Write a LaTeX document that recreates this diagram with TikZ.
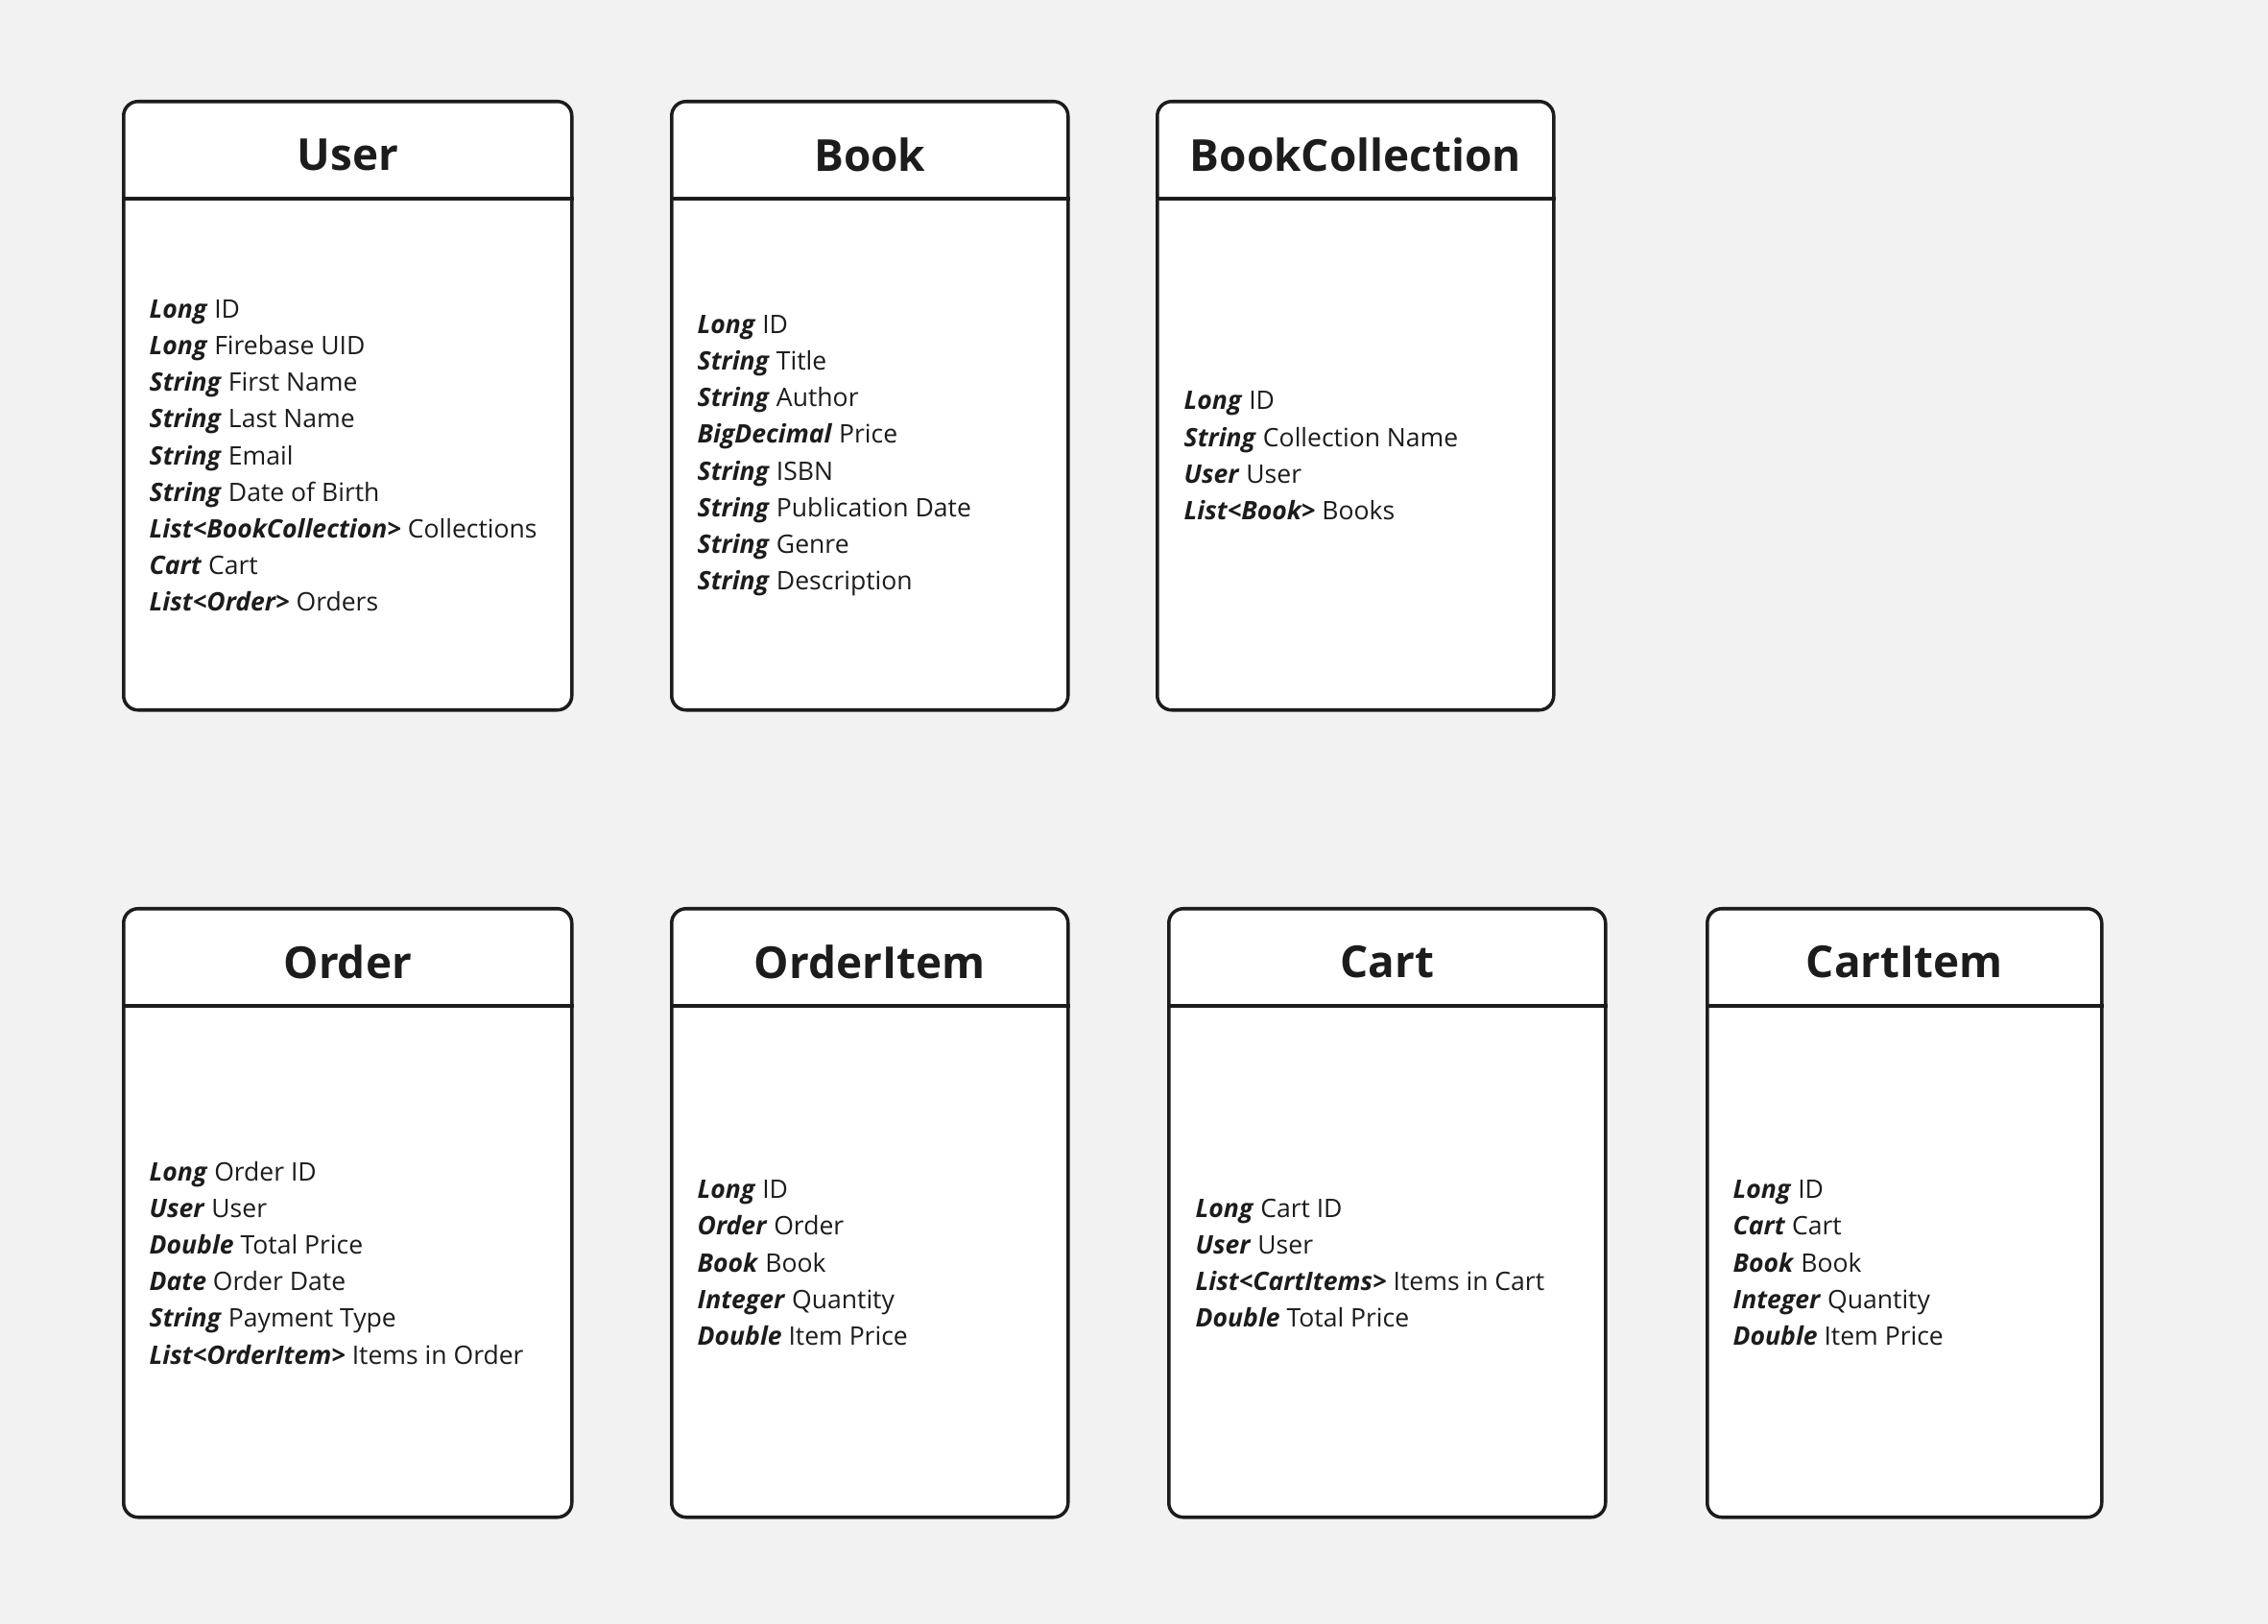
\documentclass[tikz,border=0pt]{standalone}
\usepackage{fontspec}
\setmainfont{Open Sans}
\usetikzlibrary{positioning}
\definecolor{canvas}{HTML}{F2F2F2}
\definecolor{ink}{HTML}{1C1C1C}
\newcommand{\ty}[1]{\textbf{\textit{#1}}}
\tikzset{
  classbox/.style={draw=ink, line width=1pt, rounded corners=0.15cm, fill=white, anchor=north west, inner sep=0pt},
  classname/.style={font=\bfseries\fontsize{13.05}{16}\selectfont, text=ink, inner sep=0pt},
  attrs/.style={font=\fontsize{7.55}{10.85}\selectfont, text=ink, align=left, anchor=west, inner sep=0pt},
  divider/.style={draw=ink, line width=1pt}
}
\begin{document}
\begin{tikzpicture}
	\fill[canvas] (0,0) rectangle (23.63,-16.92);
	\useasboundingbox (0,0) rectangle (23.63,-16.92);
	% top row
	\node[classbox, minimum width=4.67cm, minimum height=6.34cm] (user) at (1.27,-1.04) {};
	\node[classbox, minimum width=4.13cm, minimum height=6.34cm] (book) at (6.98,-1.04) {};
	\node[classbox, minimum width=4.13cm, minimum height=6.34cm] (bookcoll) at (12.04,-1.04) {};
	% bottom row
	\node[classbox, minimum width=4.67cm, minimum height=6.34cm] (order) at (1.27,-9.45) {};
	\node[classbox, minimum width=4.13cm, minimum height=6.34cm] (orderitem) at (6.98,-9.45) {};
	\node[classbox, minimum width=4.55cm, minimum height=6.34cm] (cart) at (12.16,-9.45) {};
	\node[classbox, minimum width=4.11cm, minimum height=6.34cm] (cartitem) at (17.77,-9.45) {};

	\foreach \c in {user,book,bookcoll,order,orderitem,cart,cartitem}
		\draw[divider] ([yshift=-1.03cm]\c.north west) -- ([yshift=-1.03cm]\c.north east);

	\node[classname] (usertitle) at ([yshift=-0.57cm]user.north) {User};
	\node[classname] (booktitle) at ([yshift=-0.57cm]book.north) {Book};
	\node[classname] (bookcolltitle) at ([yshift=-0.57cm]bookcoll.north) {BookCollection};
	\node[classname] (ordertitle) at ([yshift=-0.57cm]order.north) {Order};
	\node[classname] (orderitemtitle) at ([yshift=-0.57cm]orderitem.north) {OrderItem};
	\node[classname] (carttitle) at ([yshift=-0.57cm]cart.north) {Cart};
	\node[classname] (cartitemtitle) at ([yshift=-0.57cm]cartitem.north) {CartItem};

	\node[attrs] (userattrs) at ([xshift=0.28cm, yshift=-0.52cm]user.west) {\ty{Long} ID\\ \ty{Long} Firebase UID\\ \ty{String} First Name\\ \ty{String} Last Name\\ \ty{String} Email\\ \ty{String} Date of Birth\\ \ty{List<BookCollection>} Collections\\ \ty{Cart} Cart\\ \ty{List<Order>} Orders};
	\node[attrs] (bookattrs) at ([xshift=0.28cm, yshift=-0.52cm]book.west) {\ty{Long} ID\\ \ty{String} Title\\ \ty{String} Author\\ \ty{BigDecimal} Price\\ \ty{String} ISBN\\ \ty{String} Publication Date\\ \ty{String} Genre\\ \ty{String} Description};
	\node[attrs] (bookcollattrs) at ([xshift=0.29cm, yshift=-0.52cm]bookcoll.west) {\ty{Long} ID\\ \ty{String} Collection Name\\ \ty{User} User\\ \ty{List<Book>} Books};
	\node[attrs] (orderattrs) at ([xshift=0.28cm, yshift=-0.52cm]order.west) {\ty{Long} Order ID\\ \ty{User} User\\ \ty{Double} Total Price\\ \ty{Date} Order Date\\ \ty{String} Payment Type\\ \ty{List<OrderItem>} Items in Order};
	\node[attrs] (orderitemattrs) at ([xshift=0.28cm, yshift=-0.52cm]orderitem.west) {\ty{Long} ID\\ \ty{Order} Order\\ \ty{Book} Book\\ \ty{Integer} Quantity\\ \ty{Double} Item Price};
	\node[attrs] (cartattrs) at ([xshift=0.29cm, yshift=-0.52cm]cart.west) {\ty{Long} Cart ID\\ \ty{User} User\\ \ty{List<CartItems>} Items in Cart\\ \ty{Double} Total Price};
	\node[attrs] (cartitemattrs) at ([xshift=0.28cm, yshift=-0.52cm]cartitem.west) {\ty{Long} ID\\ \ty{Cart} Cart\\ \ty{Book} Book\\ \ty{Integer} Quantity\\ \ty{Double} Item Price};
\end{tikzpicture}
\end{document}
